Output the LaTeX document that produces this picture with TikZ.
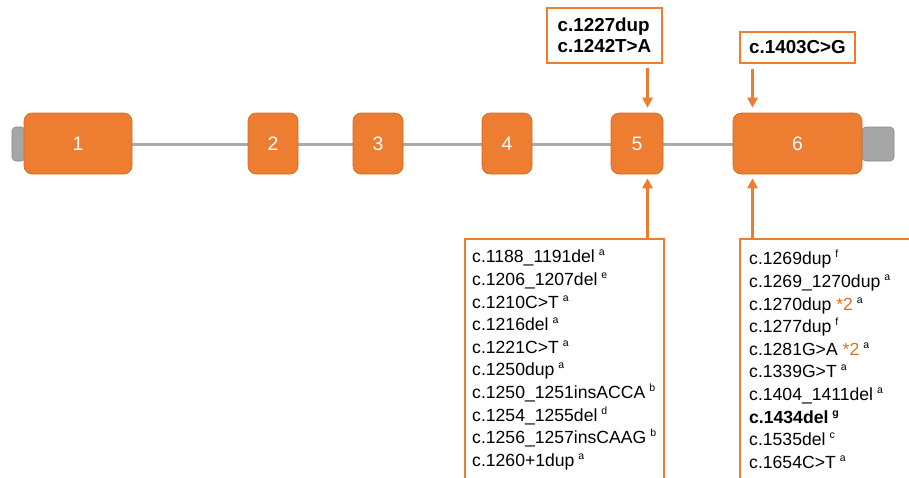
\documentclass[tikz,border=0pt]{standalone}
\usepackage{fontspec}
\setmainfont{Liberation Sans}
\usetikzlibrary{arrows.meta,positioning,calc}
\definecolor{exorange}{RGB}{237,125,49}
\definecolor{exedge}{RGB}{205,105,35}
\definecolor{utrgray}{RGB}{166,166,166}
\definecolor{utredge}{RGB}{135,135,135}
\definecolor{introngray}{RGB}{170,170,170}
\definecolor{starorange}{RGB}{226,112,36}
\newcommand{\vnote}[1]{\unskip\hspace{4pt}\raisebox{7pt}{\fontsize{10.5}{11}\selectfont #1}}

\begin{document}
\begin{tikzpicture}[x=1pt, y=-1pt,
    exon/.style={rectangle, rounded corners=8pt, fill=exorange, draw=exedge, line width=0.6pt,
      minimum height=61pt, text=white, font=\fontsize{19.5}{22}\selectfont},
    utr/.style={rectangle, rounded corners=4pt, fill=utrgray, draw=utredge, line width=0.6pt,
      minimum height=34pt},
    intron/.style={line width=3pt, introngray},
    mutbox/.style={rectangle, draw=exorange, line width=1.2pt, fill=white, minimum width=115pt,
      align=left, font=\fontsize{18.8}{21.5}\selectfont\bfseries},
    mutlist/.style={anchor=north west, align=left, inner ysep=11pt,
      font=\fontsize{17.6}{22.6}\selectfont},
    listedge/.style={exorange, line width=1.2pt},
    arr/.style={-{Triangle[length=10pt, width=10pt]}, line width=2.6pt, exorange}
  ]
    \useasboundingbox (0,0) rectangle (909,477);
    \clip (0,0) rectangle (909,477);

    \node[utr, minimum width=13pt] (uL) at (18.5,144) {};
    \node[utr, minimum width=32pt] (uR) at (878,144) {};
    \draw[intron] (uL.east) -- (uR.west);

    \node[exon, minimum width=108pt] (e1) at (78,143.5)    {1};
    \node[exon, minimum width=50pt]  (e2) at (273,143.5)   {2};
    \node[exon, minimum width=50pt]  (e3) at (378,143.5)   {3};
    \node[exon, minimum width=50pt]  (e4) at (507,143.5)   {4};
    \node[exon, minimum width=52pt]  (e5) at (637,143.5)   {5};
    \node[exon, minimum width=129pt] (e6) at (797.5,143.5) {6};

    % variants above
    \node[mutbox, minimum height=55pt] (mA) at (604.5,35.5) {c.1227dup\\c.1242T>A};
    \node[mutbox, minimum height=31pt] (mB) at (797.5,47.5) {c.1403C>G};

    \coordinate (pA) at (647.5,0);
    \coordinate (pB) at (752.5,0);
    \draw[arr, shorten <=4pt, shorten >=5pt] (mA.south -| pA) -- (e5.north -| pA);
    \draw[arr, shorten <=5pt, shorten >=5pt] (mB.south -| pB) -- (e6.north -| pB);

    % variants below
    \node[mutlist, inner xsep=7pt] (lst5) at (465,239) {%
      c.1188\_1191del \vnote{a}\\
      c.1206\_1207del \vnote{e}\\
      c.1210C>T \vnote{a}\\
      c.1216del \vnote{a}\\
      c.1221C>T \vnote{a}\\
      c.1250dup \vnote{a}\\
      c.1250\_1251insACCA \vnote{b}\\
      c.1254\_1255del \vnote{d}\\
      c.1256\_1257insCAAG \vnote{b}\\
      c.1260+1dup \vnote{a}};
    \node[mutlist, inner xsep=9pt] (lst6) at (740,239) {%
      c.1269dup \vnote{f}\\
      c.1269\_1270dup \vnote{a}\\
      c.1270dup {\color{starorange}*2} \vnote{a}\\
      c.1277dup \vnote{f}\\
      c.1281G>A {\color{starorange}*2} \vnote{a}\\
      c.1339G>T \vnote{a}\\
      c.1404\_1411del \vnote{a}\\
      \textbf{c.1434del \vnote{g}}\\
      c.1535del \vnote{c}\\
      c.1654C>T \vnote{a}};

    \draw[listedge] ([yshift=-300pt]lst5.north west) -- (lst5.north west) -- ++(199,0) -- ++(0,300);
    \draw[listedge] ([yshift=-300pt]lst6.north west) -- (lst6.north west) -- ++(250,0);

    \draw[arr, shorten >=4pt] (lst5.north -| pA) -- (e5.south -| pA);
    \draw[arr, shorten >=4pt] (lst6.north -| pB) -- (e6.south -| pB);
  \end{tikzpicture}
\end{document}
